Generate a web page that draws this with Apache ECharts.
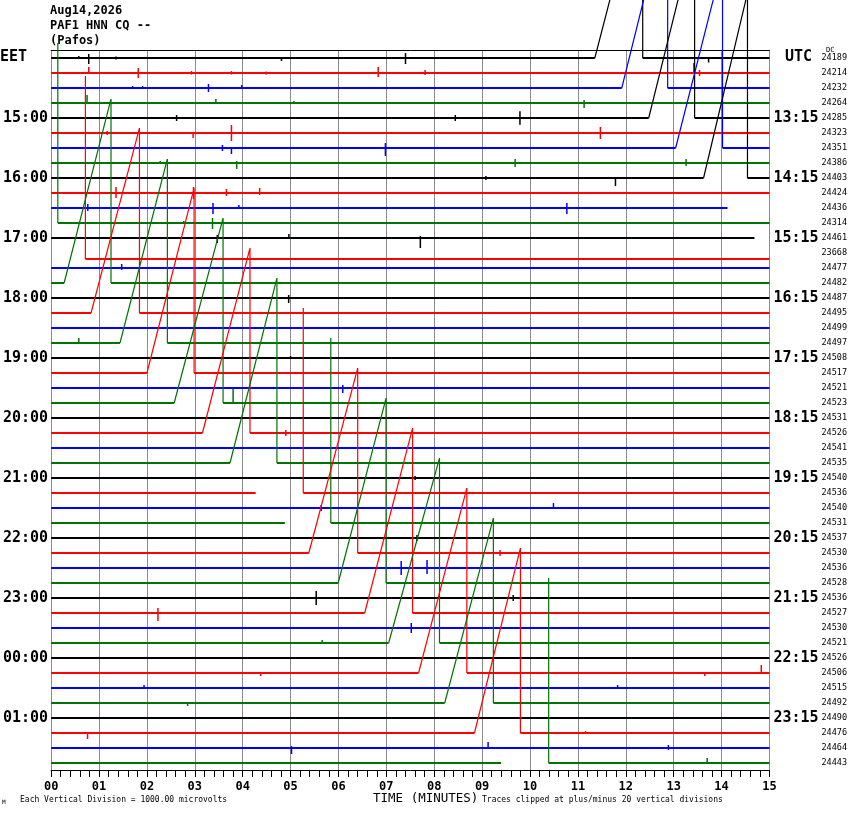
<!DOCTYPE html>
<html><head><meta charset="utf-8">
<script src="https://cdn.jsdelivr.net/npm/echarts@6/dist/echarts.min.js"></script>
<style>html,body{margin:0;padding:0;background:#fff}#c{width:850px;height:814px}</style>
</head><body><div id="c"></div><script>
// ---------- data ----------
const headerLines = ['Aug14,2026', 'PAF1 HNN CQ --', '(Pafos)'];
const traceColors = ['#000000', '#ff0000', '#0000ff', '#007300'];
const rowCount = 48;
const minuteLabels = ['00','01','02','03','04','05','06','07','08','09','10','11','12','13','14','15'];
const labelRows = [4, 8, 12, 16, 20, 24, 28, 32, 36, 40, 44];
const eetLabels = ['15:00','16:00','17:00','18:00','19:00','20:00','21:00','22:00','23:00','00:00','01:00'];
const utcLabels = ['13:15','14:15','15:15','16:15','17:15','18:15','19:15','20:15','21:15','22:15','23:15'];
const dcValues = [24189,24214,24232,24264,24285,24323,24351,24386,24403,24424,24436,24314,
  24461,23668,24477,24482,24487,24495,24499,24497,24508,24517,24521,24523,
  24531,24526,24541,24535,24540,24536,24540,24531,24537,24530,24536,24528,
  24536,24527,24530,24521,24526,24506,24515,24492,24490,24476,24464,24443];
// baseline shift of a trace, in vertical divisions (rows)
const rowOffsets = {13: 0.4};
// sawtooth excursions: [row, start minute, peak minute, peak height (divisions), rise drawn]
const ramps = [
  [0, 11.354, 12.354, 12.33, 1],
  [2, 11.917, 12.875, 12.33, 1],
  [4, 12.479, 13.438, 12.33, 1],
  [6, 13.042, 14.021, 12.33, 1],
  [8, 13.625, 14.542, 12.33, 1],
  [10, 14.125, 15.139, 12.0, 0],
  [11, -0.861, 0.139, 12.0, 0],
  [12, 14.6875, 15.715, 12.2, 0],
  [13, -0.3, 0.715, 12.2, 0],
  [15, 0.271, 1.25, 12.27, 1],
  [17, 0.833, 1.844, 12.33, 1],
  [19, 1.4375, 2.427, 12.27, 1],
  [21, 2.0, 2.985, 12.33, 1],
  [23, 2.569, 3.590, 12.33, 1],
  [25, 3.160, 4.152, 12.33, 1],
  [27, 3.735, 4.715, 12.33, 1],
  [29, 4.271, 5.265, 12.33, 0],
  [31, 4.881, 5.840, 12.33, 0],
  [33, 5.381, 6.402, 12.33, 1],
  [35, 5.994, 6.994, 12.33, 1],
  [37, 6.548, 7.548, 12.33, 1],
  [39, 7.048, 8.110, 12.33, 1],
  [41, 7.673, 8.681, 12.33, 1],
  [43, 8.219, 9.235, 12.33, 1],
  [45, 8.840, 9.800, 12.33, 1],
  [47, 9.396, 10.390, 12.33, 0]
];
// transient spikes: [row, minute, up (div), down (div)]
const spikes = [
  [0,0.577,0.13,0.07],[0,0.785,0.27,0.4],[0,1.354,0.1,0.1],[0,4.81,0.07,0.2],[0,7.40,0.33,0.4],[0,13.73,0.07,0.3],
  [1,0.785,0.4,0.07],[1,1.819,0.33,0.33],[1,2.93,0.13,0.1],[1,3.765,0.13,0.1],[1,4.49,0.1,0.1],[1,6.83,0.4,0.27],[1,7.81,0.2,0.13],[1,13.42,0.67,0],[1,13.54,0.2,0.2],
  [2,1.70,0.13,0.07],[2,1.91,0.13,0.07],[2,3.285,0.27,0.27],[2,3.98,0.2,0.07],
  [3,0.75,0.53,0.07],[3,3.44,0.27,0],[3,5.07,0.13,0.07],[3,11.13,0.2,0.33],
  [4,2.62,0.2,0.2],[4,8.44,0.2,0.2],[4,9.79,0.45,0.45],
  [5,1.17,0.13,0.13],[5,2.965,0,0.33],[5,3.765,0.53,0.53],[5,11.47,0.4,0.4],
  [6,3.577,0.2,0.2],[6,3.765,0,0.4],[6,6.98,0.33,0.53],
  [7,2.277,0.13,0],[7,3.875,0.13,0.4],[7,9.69,0.27,0.27],[7,13.26,0.27,0.2],
  [8,9.08,0.13,0.13],[8,11.785,0,0.53],
  [9,1.354,0.4,0.33],[9,2.973,0.4,0.4],[9,3.66,0.27,0.2],[9,4.354,0.33,0.13],
  [10,0.765,0.27,0.2],[10,3.38,0.33,0.4],[10,3.92,0.2,0.07],[10,10.77,0.33,0.4],
  [11,2.77,0.13,0.07],[11,3.37,0.33,0.4],
  [12,3.47,0.2,0.33],[12,4.965,0.27,0],[12,7.71,0.13,0.67],
  [14,1.473,0.27,0.13],
  [16,4.96,0.2,0.33],[19,0.577,0.33,0.07],[20,5.0,0.13,0.07],
  [22,6.09,0.2,0.33],[23,3.80,1.0,0],[25,4.90,0.2,0.2],[28,7.60,0.13,0.13],
  [30,5.64,0.2,0.2],[30,10.49,0.33,0],[32,7.64,0.2,0.2],[33,9.375,0.2,0.2],
  [34,7.31,0.47,0.47],[34,7.85,0.53,0.4],[36,5.535,0.47,0.47],[36,9.65,0.2,0.2],
  [37,2.23,0.33,0.53],[38,7.52,0.33,0.33],[39,5.66,0.2,0],
  [41,4.375,0.07,0.2],[41,13.65,0.07,0.2],[41,14.83,0.53,0.07],
  [42,1.94,0.2,0.07],[42,11.83,0.2,0.07],[43,2.85,0.07,0.2],
  [45,0.76,0,0.4],[45,11.16,0.13,0.07],[46,5.02,0.13,0.4],[46,9.125,0.4,0.07],[46,12.89,0.2,0.13],[47,13.70,0.33,0.07]
];
const footerLeft = 'Each Vertical Division = 1000.00 microvolts';
const footerRight = 'Traces clipped at plus/minus 20 vertical divisions';
const axisTitle = 'TIME (MINUTES)';

// ---------- build series ----------
const series = [];
function addSeries(pts, color, width) {
  series.push({
    type: 'line', data: pts, symbol: 'none', showSymbol: false, clip: false,
    silent: true, animation: false, xAxisIndex: 0, yAxisIndex: 0,
    lineStyle: { color: color, width: width }
  });
}
for (let r = 0; r < rowCount; r++) {
  const color = traceColors[r % 4];
  const base = r + (rowOffsets[r] || 0);
  const rr = ramps.filter(d => d[0] === r).sort((a, b) => a[1] - b[1]);
  let cursor = 0;
  rr.forEach(([, s, e, peak, rise]) => {
    if (s > cursor) addSeries([[cursor, base], [Math.min(s, 15), base]], color, 2);
    const rp = [];
    if (rise && s >= 0) rp.push([s, base]);
    if (e <= 15) rp.push([e, base - peak], [e, base]);
    if (rp.length >= 2) addSeries(rp, color, 1.2);
    cursor = e;
  });
  if (cursor < 15) addSeries([[cursor, base], [15, base]], color, 2);
}
// spikes drawn as short vertical strokes through the axes' scales
series.push({
  type: 'custom', silent: true, animation: false, clip: false, xAxisIndex: 0, yAxisIndex: 0,
  data: spikes,
  encode: { x: 1, y: 0 },
  renderItem: function (params, api) {
    const r = api.value(0), m = api.value(1), up = api.value(2), dn = api.value(3);
    const base = r + (rowOffsets[r] || 0);
    const p1 = api.coord([m, base - up]);
    const p2 = api.coord([m, base + dn]);
    return { type: 'line', shape: { x1: p1[0], y1: p1[1], x2: p2[0], y2: p2[1] },
      style: { stroke: traceColors[r % 4], lineWidth: 1.5 } };
  }
});

const mono = '"DejaVu Sans Mono", "Liberation Mono", monospace';
const yMin = -8 / 15, yMax = 48 - 8 / 15;
const chart = echarts.init(document.getElementById('c'), null, { renderer: 'canvas' });
chart.setOption({
  backgroundColor: '#ffffff',
  animation: false,
  textStyle: { fontFamily: mono },
  grid: { left: 50, right: 80, top: 50, bottom: 44, containLabel: false },
  xAxis: [{
    type: 'value', min: 0, max: 15, interval: 1, position: 'bottom',
    axisLine: { show: true, onZero: false, lineStyle: { color: '#000', width: 1 } },
    axisTick: { show: true, length: 7, lineStyle: { color: '#000', width: 1 } },
    minorTick: { show: true, splitNumber: 5, length: 7, lineStyle: { color: '#000', width: 1 } },
    axisLabel: { show: true, margin: 11, color: '#000', fontFamily: mono, fontWeight: 'bold', fontSize: 12,
      formatter: v => minuteLabels[Math.round(v)] },
    splitLine: { show: true, lineStyle: { color: '#8c8c8c', width: 1 } },
    minorSplitLine: { show: false }
  }, {
    type: 'value', min: 0, max: 15, interval: 1, position: 'top',
    axisLine: { show: true, onZero: false, lineStyle: { color: '#000', width: 1 } },
    axisTick: { show: false }, axisLabel: { show: false }, splitLine: { show: false }
  }],
  yAxis: [{
    type: 'value', inverse: true, min: yMin, max: yMax, position: 'left',
    axisLine: { show: false }, axisTick: { show: false }, splitLine: { show: false },
    axisLabel: { show: true, customValues: labelRows, margin: 3, color: '#000', fontFamily: mono,
      fontWeight: 'bold', fontSize: 15, formatter: v => eetLabels[labelRows.indexOf(Math.round(v))] || '' }
  }, {
    type: 'value', inverse: true, min: yMin, max: yMax, position: 'right',
    axisLine: { show: false }, axisTick: { show: false }, splitLine: { show: false },
    axisLabel: { show: true, customValues: labelRows, margin: 4, color: '#000', fontFamily: mono,
      fontWeight: 'bold', fontSize: 15, formatter: v => utcLabels[labelRows.indexOf(Math.round(v))] || '' }
  }, {
    type: 'value', inverse: true, min: yMin, max: yMax, position: 'right', offset: 48,
    axisLine: { show: false }, axisTick: { show: false }, splitLine: { show: false },
    axisLabel: { show: true, customValues: dcValues.map((d, i) => i), margin: 4, color: '#000',
      fontFamily: mono, fontSize: 8.5, formatter: v => String(dcValues[Math.round(v)]) }
  }],
  graphic: [
    ...headerLines.map((t, i) => ({ type: 'text', left: 50, top: 5 + i * 15, silent: true,
      style: { text: t, font: 'bold 12px ' + mono, fill: '#000' } })),
    { type: 'text', left: 0, top: 50, silent: true, style: { text: 'EET', font: 'bold 15px ' + mono, fill: '#000' } },
    { type: 'text', left: 785, top: 50, silent: true, style: { text: 'UTC', font: 'bold 15px ' + mono, fill: '#000' } },
    { type: 'text', left: 826, top: 47, silent: true, style: { text: 'DC', font: '7px ' + mono, fill: '#000' } },
    { type: 'text', left: 20, top: 796, silent: true, style: { text: footerLeft, font: '8px ' + mono, fill: '#000' } },
    { type: 'text', left: 373, top: 792, silent: true, style: { text: axisTitle, font: '12.5px ' + mono, fill: '#000' } },
    { type: 'text', left: 482, top: 796, silent: true, style: { text: footerRight, font: '8px ' + mono, fill: '#000' } },
    { type: 'text', left: 2, top: 799, silent: true, style: { text: 'M', font: '6px ' + mono, fill: '#000' } }
  ],
  series: series
});
</script></body></html>
